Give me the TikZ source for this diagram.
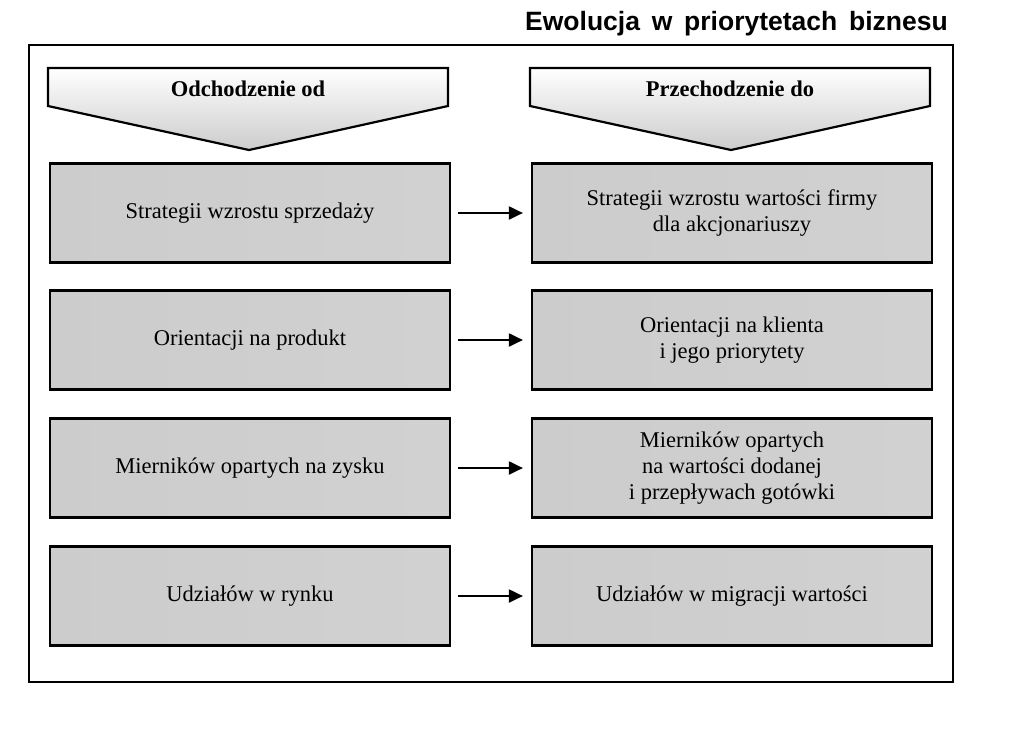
\documentclass[tikz,border=0pt]{standalone}
\usepackage{fontspec}
\setmainfont{Liberation Serif}
\newfontfamily\titlefont{Liberation Sans}
\usetikzlibrary{arrows.meta,shapes.geometric}
\begin{document}
\begin{tikzpicture}[x=1pt,y=-1pt,
  box/.style={draw=black, line width=2.2pt, minimum width=400pt, minimum height=99pt,
    left color=gray!40, middle color=gray!16, right color=gray!36,
    font=\fontsize{22.5}{26}\selectfont, align=center, inner sep=0pt},
  conn/.style={line width=2pt, -{Triangle[length=14pt,width=13pt]}},
  head/.style={draw=black, line width=2.2pt, top color=white, bottom color=gray!40},
  headtext/.style={font=\fontsize{22.5}{26}\selectfont\bfseries}
]
\useasboundingbox (0,0) rectangle (1024,739);
% title
\node[anchor=base east, inner sep=0pt, font=\titlefont\fontsize{26.5}{30}\selectfont\bfseries] (title) at (948,30) {Ewolucja\, w\, priorytetach\, biznesu};
% frame
\draw[line width=2.2pt] (29,45) rectangle (953,682);
% header arrows
\draw[head] (48,68) -- (448,68) -- (448,106) -- (249,150) -- (48,106) -- cycle;
\draw[head] (530,68) -- (930,68) -- (930,106) -- (731,150) -- (530,106) -- cycle;
\node[headtext] (hl) at (248,89) {Odchodzenie od};
\node[headtext] (hr) at (730,89) {Przechodzenie do};
% boxes
\node[box] (l1) at (250,213) {Strategii wzrostu sprzedaży};
\node[box] (r1) at (732,213) {Strategii wzrostu wartości firmy\\dla akcjonariuszy};
\node[box] (l2) at (250,340) {Orientacji na produkt};
\node[box] (r2) at (732,340) {Orientacji na klienta\\i jego priorytety};
\node[box] (l3) at (250,468) {Mierników opartych na zysku};
\node[box] (r3) at (732,468) {Mierników opartych\\na wartości dodanej\\i przepływach gotówki};
\node[box] (l4) at (250,596) {Udziałów w rynku};
\node[box] (r4) at (732,596) {Udziałów w migracji wartości};
% arrows
\foreach \i in {1,2,3,4}{
  \draw[conn] ([xshift=7pt]l\i.east) -- ([xshift=-8pt]r\i.west);
}
\end{tikzpicture}
\end{document}
